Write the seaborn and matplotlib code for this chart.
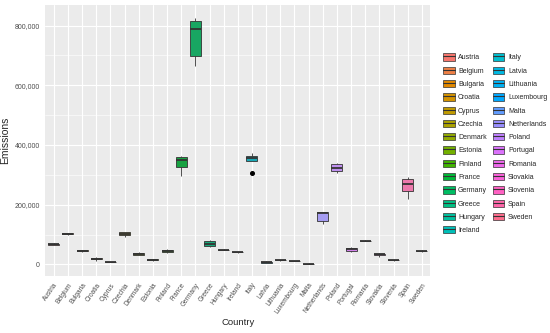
import numpy as np
import pandas as pd
import seaborn as sns
import matplotlib.pyplot as plt
from matplotlib.patches import Patch
from matplotlib.lines import Line2D
from matplotlib.ticker import FuncFormatter, MultipleLocator

countries = ["Austria", "Belgium", "Bulgaria", "Croatia", "Cyprus", "Czechia", "Denmark",
             "Estonia", "Finland", "France", "Germany", "Greece", "Hungary", "Ireland",
             "Italy", "Latvia", "Lithuania", "Luxembourg", "Malta", "Netherlands", "Poland",
             "Portugal", "Romania", "Slovakia", "Slovenia", "Spain", "Sweden"]

# emissions per year, thousands
y2014 = [71, 105, 49, 24, 9, 110, 40, 19, 51, 364, 825, 81, 51, 43, 372, 12, 15, 12, 5, 177, 340, 57, 81, 37, 15, 292, 47]
y2015 = [70, 104, 48, 21, 8.5, 109, 39, 18, 50, 360, 823, 80, 50, 42, 366, 10, 15, 11.5, 3, 176, 337, 56, 80, 36, 14.5, 290, 46]
y2016 = [69, 103, 47, 20, 8, 104, 36, 16, 46, 358, 798, 72, 49, 41, 360, 9, 14.5, 11, 2.5, 174, 328, 54, 79, 35, 14, 274, 45]
y2017 = [67, 101, 45, 18, 8, 101, 34, 15, 44, 340, 780, 68, 49, 41, 352, 7, 14, 11, 2, 168, 320, 50, 79, 33, 14, 262, 45]
y2018 = [66, 100, 44, 17, 7.5, 97, 31, 14, 40, 320, 672, 60, 48, 40, 345, 6, 13.5, 10.5, 1, 140, 312, 44, 78, 30, 13.5, 240, 44]
y2019 = [65, 97, 40, 13, 7, 93, 30, 13, 38, 297, 663, 58, 47, 39, 307, 4, 13, 10, 0, 137, 305, 43, 77, 26, 13, 218, 43]
years = [2014, 2015, 2016, 2017, 2018, 2019]


def hcl_hex(h, c=100, l=65):
    # ggplot2 default hue palette (polar Luv -> sRGB)
    hr = np.deg2rad(h)
    u, v = c * np.cos(hr), c * np.sin(hr)
    xn, yn, zn = 95.047, 100.0, 108.883
    d = xn + 15 * yn + 3 * zn
    un, vn = 4 * xn / d, 9 * yn / d
    Y = yn * ((l + 16) / 116) ** 3
    up, vp = u / (13 * l) + un, v / (13 * l) + vn
    X = Y * 9 * up / (4 * vp)
    Z = Y * (12 - 3 * up - 20 * vp) / (4 * vp)
    m = np.array([[3.2406, -1.5372, -0.4986], [-0.9689, 1.8758, 0.0415], [0.0557, -0.2040, 1.0570]])
    rgb = np.clip(m @ (np.array([X, Y, Z]) / 100), 0, 1)
    rgb = np.where(rgb <= 0.0031308, 12.92 * rgb, 1.055 * rgb ** (1 / 2.4) - 0.055)
    return tuple(np.clip(rgb, 0, 1))


n = len(countries)
palette = [hcl_hex(15 + i * 360 / n) for i in range(n)]

rows = []
for yr, vals in zip(years, [y2014, y2015, y2016, y2017, y2018, y2019]):
    for c, v in zip(countries, vals):
        rows.append({"Country": c, "Year": yr, "Emissions": v * 1000})
df = pd.DataFrame(rows)

sns.set_style("darkgrid", {"axes.facecolor": "#EBEBEB", "grid.color": "white"})
plt.rcParams["font.family"] = ["Liberation Sans", "DejaVu Sans"]

fig = plt.figure(figsize=(5.5, 3.33), dpi=100)
ax = fig.add_axes([0.0824, 0.171, 0.7, 0.814])

sns.boxplot(data=df, x="Country", y="Emissions", hue="Country", palette=palette,
            order=countries, hue_order=countries, legend=False, ax=ax,
            width=0.78, dodge=False, linecolor="#333333", linewidth=0.6, showcaps=False,
            medianprops=dict(linewidth=1.3, color="#333333"),
            flierprops=dict(marker="o", markersize=2.6, markerfacecolor="black",
                            markeredgecolor="black"))

ax.set_xlim(-0.6, n - 0.4)
ax.set_ylim(-39000, 869000)
ax.yaxis.set_major_locator(MultipleLocator(200000))
ax.yaxis.set_minor_locator(MultipleLocator(100000))
ax.yaxis.set_major_formatter(FuncFormatter(lambda v, p: "{:,.0f}".format(v)))
ax.grid(which="major", color="white", linewidth=0.8)
ax.grid(which="minor", axis="y", color="white", linewidth=0.4)
ax.set_axisbelow(True)
for s in ax.spines.values():
    s.set_visible(False)

ax.tick_params(axis="both", which="major", length=2.5, width=0.6, color="#333333",
               labelsize=5, labelcolor="#4D4D4D", pad=1.5)
ax.tick_params(axis="x", labelsize=4.7)
ax.tick_params(axis="y", which="minor", length=0)
plt.setp(ax.get_xticklabels(), rotation=55, ha="right", rotation_mode="anchor")

ax.set_xlabel("Country", fontsize=6.8, labelpad=2)
ax.set_ylabel("Emissions", fontsize=7.5, labelpad=3)

handles = [(Patch(facecolor=col, edgecolor="#333333", linewidth=0.5),
            Line2D([], [], color="#333333", linewidth=0.8)) for col in palette]
fig.legend(handles, countries, loc="upper left", bbox_to_anchor=(0.8, 0.848), ncol=2,
           frameon=False, fontsize=5, handlelength=1.7, handleheight=1.25,
           handletextpad=0.5, columnspacing=0.8, labelspacing=0.76, borderaxespad=0)

fig.savefig("out.png", dpi=100)
